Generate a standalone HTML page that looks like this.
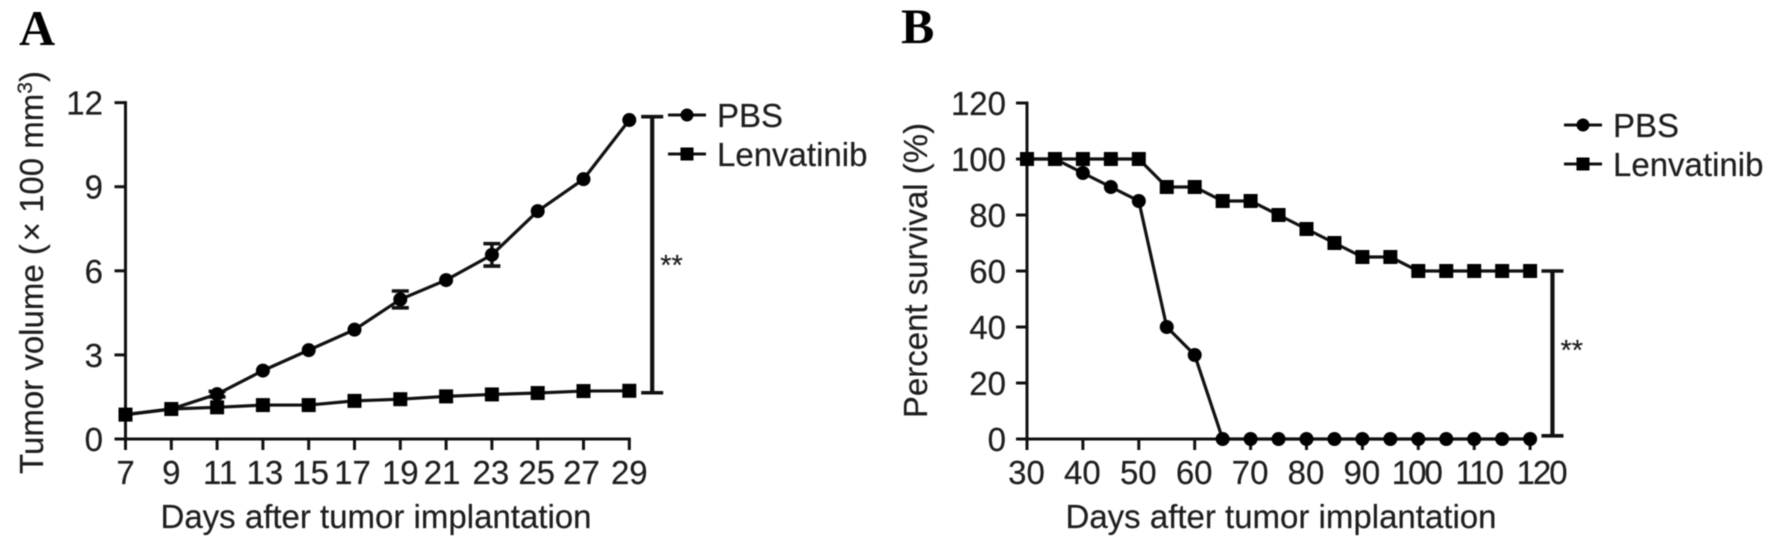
<!DOCTYPE html>
<html lang="en">
<head>
<meta charset="utf-8">
<title>Tumor volume and survival charts</title>
<style>
html,body{margin:0;padding:0;background:#fff;width:1778px;height:548px;overflow:hidden}
svg{display:block;filter:blur(.6px)}
text{font-family:"Liberation Sans",Arial,sans-serif;fill:#1e1e1e;stroke:#1e1e1e;stroke-width:.2px}
.panel{font-family:"Liberation Serif","Times New Roman",serif;font-weight:bold;font-size:50px;fill:#000;stroke:none}
</style>
</head>
<body>
<svg id="figure" width="1778" height="548" viewBox="0 0 1778 548" xmlns="http://www.w3.org/2000/svg">
<rect width="1778" height="548" fill="#fff"/>
<text class="panel" x="19" y="45">A</text>
<text class="panel" x="901" y="43">B</text>
<text transform="translate(43 272.5) rotate(-90)" text-anchor="middle" font-size="33">Tumor volume (&#8202;× 100 mm<tspan font-size="21" dy="-11">3</tspan><tspan dy="11">)</tspan></text>
<text x="376" y="528" text-anchor="middle" font-size="33">Days after tumor implantation</text>
<text transform="translate(927 270.5) rotate(-90)" text-anchor="middle" font-size="33">Percent survival (%)</text>
<text x="1281" y="528" text-anchor="middle" font-size="33">Days after tumor implantation</text>
</svg>
<script>
// Panel A data
const daysA = [7, 9, 11, 13, 15, 17, 19, 21, 23, 25, 27, 29];
const pbsA = [0.87, 1.07, 1.6, 2.44, 3.17, 3.9, 4.98, 5.67, 6.57, 8.13, 9.27, 11.38];
const pbsErrA = [0, 0, 0.1, 0, 0, 0, 0.3, 0, 0.4, 0, 0, 0];
const lenvA = [0.87, 1.07, 1.13, 1.21, 1.21, 1.36, 1.42, 1.52, 1.59, 1.64, 1.71, 1.72];
const xTicksA = [7, 9, 11, 13, 15, 17, 19, 21, 23, 25, 27, 29];
const yTicksA = [0, 3, 6, 9, 12];
const sigA = [1.65, 11.5];
const sigDayA = 30;

// Panel B data
const daysB = [30, 35, 40, 45, 50, 55, 60, 65, 70, 75, 80, 85, 90, 95, 100, 105, 110, 115, 120];
const pbsB = [100, 100, 95, 90, 85, 40, 30, 0, 0, 0, 0, 0, 0, 0, 0, 0, 0, 0, 0];
const lenvB = [100, 100, 100, 100, 100, 90, 90, 85, 85, 80, 75, 70, 65, 65, 60, 60, 60, 60, 60];
const xTicksB = [30, 40, 50, 60, 70, 80, 90, 100, 110, 120];
const yTicksB = [0, 20, 40, 60, 80, 100, 120];
const sigB = [1.15, 60];
const sigDayB = 124;

const NS = 'http://www.w3.org/2000/svg';
const fig = document.getElementById('figure');
const INK = '#111';

function xScaleA(d) { return 125.5 + (d - 7) * 22.9; }
function yScaleA(v) { return 439 - v * 28.03; }
function xScaleB(d) { return 1027 + (d - 30) * 5.59; }
function yScaleB(v) { return 439 - v * 2.8; }

// Small hand-placed label offsets seen in the original figure
function nudgeA(t) {
  if (t === 11) return 3;
  if (t === 13 || t === 15) return 2;
  if (t === 17 || t === 27) return -2;
  if (t === 21) return -4;
  if (t === 23 || t === 25) return -1;
  return 0;
}
function nudgeB(t) {
  return t >= 100 ? (t - 100) * 0.65 - 2 : -0.5;
}

function make(tag, attrs, parent) {
  const el = document.createElementNS(NS, tag);
  for (const k in attrs) el.setAttribute(k, attrs[k]);
  parent.appendChild(el);
  return el;
}
function seg(parent, x1, y1, x2, y2, w) {
  return make('line', { x1: x1, y1: y1, x2: x2, y2: y2, stroke: INK, 'stroke-width': w }, parent);
}
function circleMark(parent, x, y, r) {
  const el = make('circle', { cx: x, cy: y, r: r, fill: '#000' }, parent);
  
  
  return el;
}
function squareMark(parent, x, y, s) {
  const el = make('rect', { x: x - s / 2, y: y - s / 2, width: s, height: s, fill: '#000' }, parent);
  
  
  return el;
}

function drawAxes(id, xs, ys, xTicks, yTicks, labelRight, nudge) {
  const g = make('g', {}, fig);
  
  
  const x0 = xs(xTicks[0]);
  const x1 = xs(xTicks[xTicks.length - 1]);
  const y0 = ys(yTicks[0]);
  const y1 = ys(yTicks[yTicks.length - 1]);
  const yAxis = seg(g, x0, y0, x0, y1 - 1.5, 3);
  
  
  const xAxis = seg(g, x0 - 1.5, y0, x1 + 1.5, y0, 3);
  
  
  xTicks.forEach(function (t) {
    const tick = seg(g, xs(t), y0, xs(t), y0 + 11, 3);
    
    
    const label = make('text', { x: xs(t) + nudge(t), y: 484, 'text-anchor': 'middle', 'font-size': 33 }, g);
    
    
    if (t >= 100) label.setAttribute('letter-spacing', '-2');
    label.textContent = t;
  });
  yTicks.forEach(function (t) {
    const tick = seg(g, x0 - 11, ys(t), x0, ys(t), 3);
    
    
    const label = make('text', { x: labelRight, y: ys(t) + 12, 'text-anchor': 'end', 'font-size': 33 }, g);
    
    
    label.textContent = t;
  });
}

function drawSeries(name, xs, ys, days, values, kind, errs) {
  const g = make('g', {}, fig);
  
  
  const pts = days.map(function (d, i) { return xs(d) + ',' + ys(values[i]); }).join(' ');
  const line = make('polyline', { points: pts, fill: 'none', stroke: INK, 'stroke-width': 3.2 }, g);
  
  
  days.forEach(function (d, i) {
    if (errs && errs[i] > 0) {
      const x = xs(d);
      const top = ys(values[i] + errs[i]);
      const bottom = ys(values[i] - errs[i]);
      const bar = seg(g, x, top, x, bottom, 3.4);
      
      
      const capTop = seg(g, x - 8.5, top, x + 8.5, top, 3.6);
      
      
      const capBottom = seg(g, x - 8.5, bottom, x + 8.5, bottom, 3.6);
      
      
    }
    if (kind === 'circle') circleMark(g, xs(d), ys(values[i]), 7);
    else squareMark(g, xs(d), ys(values[i]), 14);
  });
}

function drawBracket(id, xs, ys, day, range, starY) {
  const g = make('g', {}, fig);
  
  
  const x = xs(day);
  const low = ys(range[0]);
  const high = ys(range[1]);
  const stem = seg(g, x, low, x, high, 4.2);
  
  
  const capHigh = seg(g, x - 11, high, x + 11, high, 3.6);
  
  
  const capLow = seg(g, x - 11, low, x + 11, low, 3.6);
  
  
  const stars = make('text', { x: x + 8, y: starY, 'font-size': 29 }, g);
  
  
  stars.textContent = '**';
}

function drawLegend(id, x, y1, y2) {
  const g = make('g', {}, fig);
  
  
  const l1 = seg(g, x, y1, x + 38, y1, 3);
  
  
  circleMark(g, x + 19, y1, 6.5);
  const t1 = make('text', { x: x + 49, y: y1 + 12, 'font-size': 33 }, g);
  
  
  t1.textContent = 'PBS';
  const l2 = seg(g, x, y2, x + 38, y2, 3);
  
  
  squareMark(g, x + 19, y2, 13);
  const t2 = make('text', { x: x + 49, y: y2 + 12, 'font-size': 33 }, g);
  
  
  t2.textContent = 'Lenvatinib';
}

drawAxes('a', xScaleA, yScaleA, xTicksA, yTicksA, 103, nudgeA);
drawSeries('pbs-a', xScaleA, yScaleA, daysA, pbsA, 'circle', pbsErrA);
drawSeries('lenvatinib-a', xScaleA, yScaleA, daysA, lenvA, 'square');
drawBracket('a', xScaleA, yScaleA, sigDayA, sigA, 275);
drawLegend('a', 668, 115, 154);

drawAxes('b', xScaleB, yScaleB, xTicksB, yTicksB, 1006, nudgeB);
drawSeries('pbs-b', xScaleB, yScaleB, daysB, pbsB, 'circle');
drawSeries('lenvatinib-b', xScaleB, yScaleB, daysB, lenvB, 'square');
drawBracket('b', xScaleB, yScaleB, sigDayB, sigB, 360);
drawLegend('b', 1564, 125, 164);
</script>
</body>
</html>
